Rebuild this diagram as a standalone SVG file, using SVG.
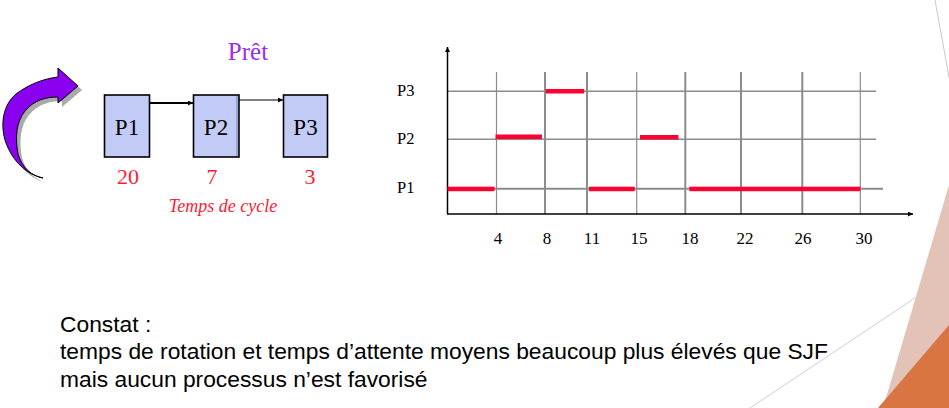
<svg xmlns="http://www.w3.org/2000/svg" width="949" height="408" viewBox="0 0 949 408">
<defs>
<style>
.serif{font-family:'Liberation Serif','Times New Roman',serif}
.box{fill:#c2cbf6;stroke:#000;stroke-width:1.6}
.blbl{font-size:23px;fill:#000;text-anchor:middle}
.num{font-size:22px;fill:#ff1a33;text-anchor:middle}
.grid{stroke:#8c8c8c;fill:none}
.ax{stroke:#000;stroke-width:1.5;fill:none}
.bar{fill:#ff0030}
.plbl{font-size:16.5px;fill:#000}
.tlbl{font-size:17px;fill:#000;text-anchor:middle}
.body{font-family:'Liberation Sans',Arial,sans-serif;font-size:22.8px;fill:#000}
</style>
<marker id="ah" viewBox="0 0 10 10" refX="10" refY="5" markerWidth="5" markerHeight="5" orient="auto" markerUnits="userSpaceOnUse">
<path d="M0,0 L10,5 L0,10 Z" fill="#000"/>
</marker>
</defs>

<g id="decor">
<line x1="935" y1="0" x2="951" y2="88" stroke="#c8c8c8" stroke-width="1"/>
<line x1="750" y1="408" x2="951" y2="274" stroke="#d0d0d0" stroke-width="1"/>
<polygon points="949,185 949,408 883,408" fill="#e3c3b8"/>
<polygon points="949,325 949,408 878,408" fill="#d97542"/>
</g>

<g id="cycle-arrow">
<path d="M45,181 C30,178 14,164 7,142 C2,124 6,106 19,97 C30,88 44,82 60,80 L60,70 L80,88 L60,105 L60,99 C48,99 36,102 27,113 C18,124 17,140 20,156 C24,170 34,178 45,181 Z" fill="#555" opacity="0.5" transform="translate(2,2)"/>
<path d="M43,178 C28,175 12,162 5,140 C0,122 4,104 16,94 C28,85 42,79 58,77 L58,68 L78,86 L58,103 L58,97 C46,97 34,100 25,111 C16,122 15,138 18,154 C22,168 32,176 43,178 Z" fill="#8a00f0" stroke="#000" stroke-width="1"/>
</g>

<g id="pret-label">
<text class="serif" x="248" y="60" font-size="25" fill="#9b2cf0" text-anchor="middle">Prêt</text>
</g>
<g id="node-P1">
<rect class="box" x="104.5" y="95" width="45" height="62"/>
<text class="serif blbl" x="127" y="135">P1</text>
</g>
<g id="node-P2">
<rect class="box" x="193.5" y="95" width="45.5" height="62"/>
<line x1="237" y1="96" x2="237" y2="156" stroke="#8a96c8" stroke-width="1.5"/>
<text class="serif blbl" x="216" y="135">P2</text>
</g>
<g id="node-P3">
<rect class="box" x="283.5" y="95" width="44" height="62"/>
<text class="serif blbl" x="305.5" y="135">P3</text>
</g>
<g id="connectors">
<line x1="149.5" y1="103" x2="193" y2="103" stroke="#000" stroke-width="2" marker-end="url(#ah)"/>
<line x1="239" y1="100" x2="283" y2="100" stroke="#000" stroke-width="1.2" marker-end="url(#ah)"/>
</g>
<g id="cycle-times">
<text class="serif num" x="128" y="184">20</text>
<text class="serif num" x="212" y="184">7</text>
<text class="serif num" x="310" y="184">3</text>
<text class="serif" x="223" y="212" font-size="18" font-style="italic" fill="#ff1a33" text-anchor="middle">Temps de cycle</text>
</g>

<g id="gantt">
<g id="grid">
<line class="grid" stroke-width="1.5" x1="447" y1="91.3" x2="876" y2="91.3"/>
<line class="grid" stroke-width="1.5" x1="447" y1="139.3" x2="876" y2="139.3"/>
<line class="grid" stroke-width="2" x1="447" y1="188.7" x2="883" y2="188.7"/>
<line class="grid" stroke-width="1.2" x1="496.5" y1="72" x2="496.5" y2="214"/>
<line class="grid" stroke-width="2" x1="545" y1="72" x2="545" y2="214"/>
<line class="grid" stroke-width="2" x1="587" y1="72" x2="587" y2="214"/>
<line class="grid" stroke-width="1.2" x1="636.7" y1="72" x2="636.7" y2="214"/>
<line class="grid" stroke-width="2" x1="685.3" y1="72" x2="685.3" y2="214"/>
<line class="grid" stroke-width="2" x1="741" y1="72" x2="741" y2="214"/>
<line class="grid" stroke-width="2" x1="802.3" y1="72" x2="802.3" y2="214"/>
<line class="grid" stroke-width="1.2" x1="860.3" y1="72" x2="860.3" y2="214"/>
</g>
<g id="axes">
<line class="ax" x1="447.5" y1="214" x2="447.5" y2="47" marker-end="url(#ah)"/>
<line class="ax" x1="447" y1="214" x2="913" y2="214" marker-end="url(#ah)"/>
</g>
<g id="bars">
<rect class="bar" x="447.5" y="186.7" width="47" height="4.5"/>
<rect class="bar" x="495.5" y="134.5" width="46.5" height="4.5"/>
<rect class="bar" x="545.7" y="89" width="38.5" height="4.5"/>
<rect class="bar" x="589" y="186.7" width="45.7" height="4.5"/>
<rect class="bar" x="640" y="135" width="38.5" height="4.5"/>
<rect class="bar" x="689.3" y="186.7" width="171" height="4.5"/>
</g>
<g id="row-labels">
<text class="serif plbl" x="397" y="96">P3</text>
<text class="serif plbl" x="397" y="144">P2</text>
<text class="serif plbl" x="397" y="193">P1</text>
</g>
<g id="tick-labels">
<text class="serif tlbl" x="498" y="244">4</text>
<text class="serif tlbl" x="547" y="244">8</text>
<text class="serif tlbl" x="592" y="244">11</text>
<text class="serif tlbl" x="639" y="244">15</text>
<text class="serif tlbl" x="690" y="244">18</text>
<text class="serif tlbl" x="745" y="244">22</text>
<text class="serif tlbl" x="803" y="244">26</text>
<text class="serif tlbl" x="864" y="244">30</text>
</g>
</g>

<g id="conclusion">
<text class="body" x="60" y="332">Constat :</text>
<text class="body" x="60" y="359">temps de rotation et temps d’attente moyens beaucoup plus élevés que SJF</text>
<text class="body" x="60" y="387">mais aucun processus n’est favorisé</text>
</g>
</svg>
